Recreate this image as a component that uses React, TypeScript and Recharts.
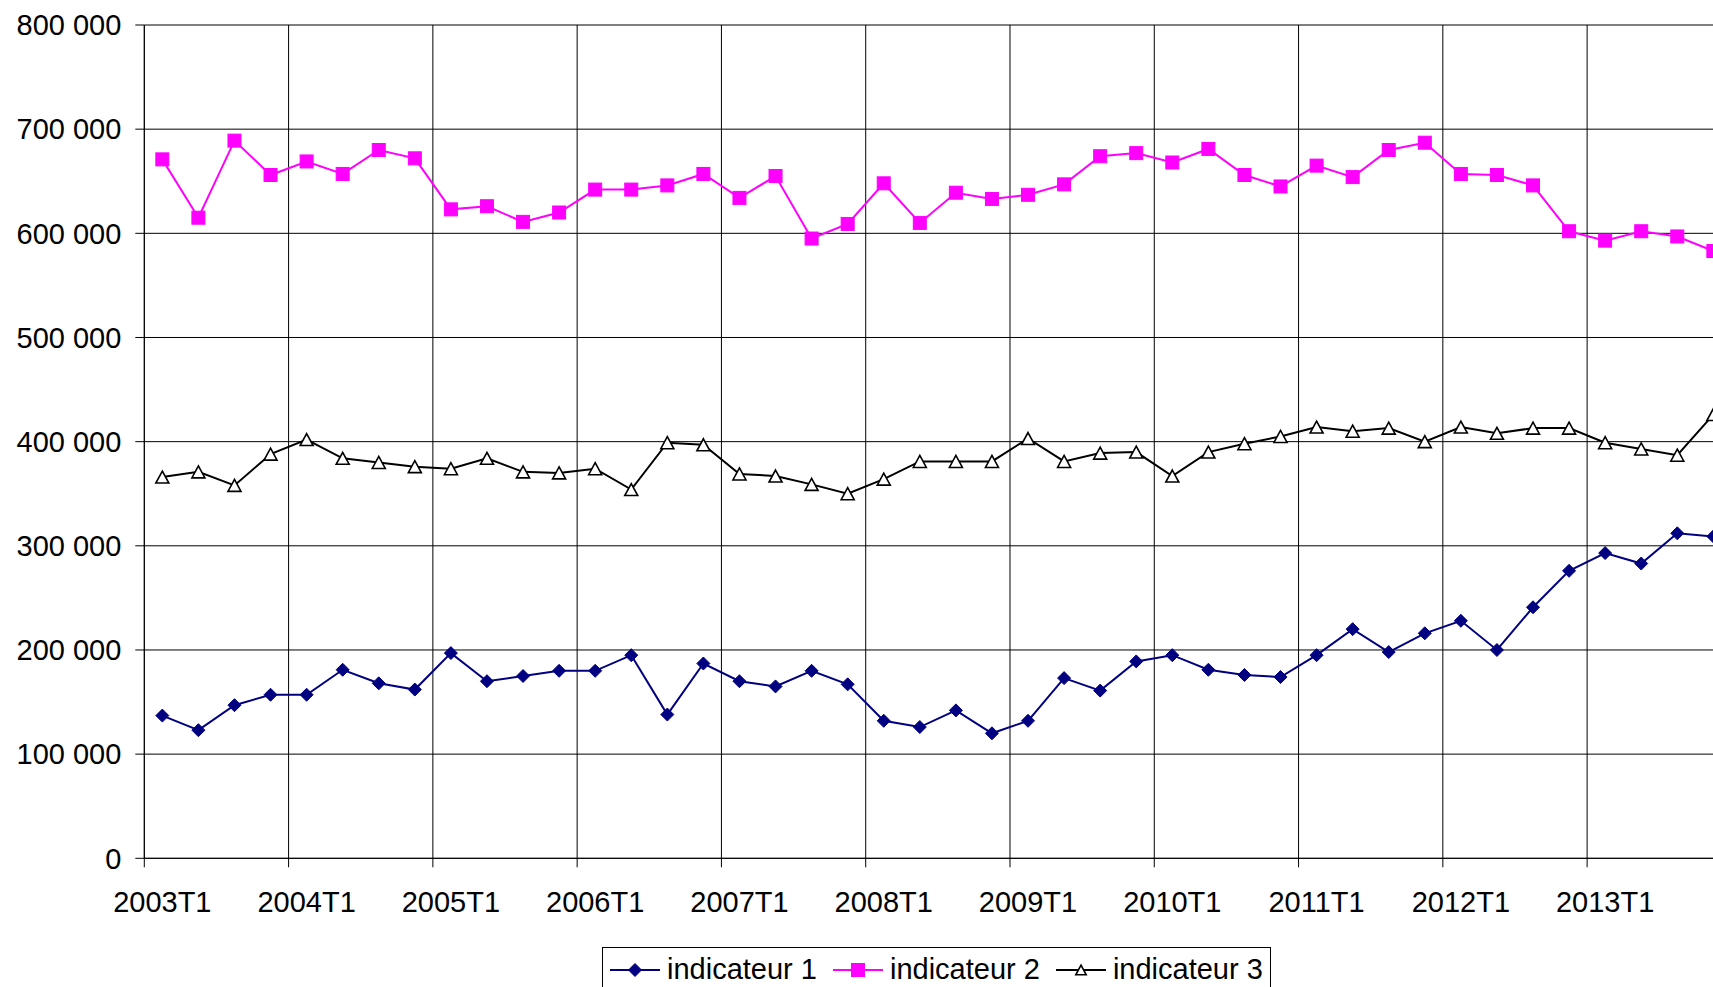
import React from 'react';
import { LineChart, Line, XAxis, YAxis, CartesianGrid, Legend } from 'recharts';

const QUARTERS = [
  '2003T1', '2003T2', '2003T3', '2003T4',
  '2004T1', '2004T2', '2004T3', '2004T4',
  '2005T1', '2005T2', '2005T3', '2005T4',
  '2006T1', '2006T2', '2006T3', '2006T4',
  '2007T1', '2007T2', '2007T3', '2007T4',
  '2008T1', '2008T2', '2008T3', '2008T4',
  '2009T1', '2009T2', '2009T3', '2009T4',
  '2010T1', '2010T2', '2010T3', '2010T4',
  '2011T1', '2011T2', '2011T3', '2011T4',
  '2012T1', '2012T2', '2012T3', '2012T4',
  '2013T1', '2013T2', '2013T3', '2013T4',
];

// valeurs en milliers
const INDICATEUR_1 = [
  137, 123, 147, 157, 157, 181, 168, 162, 197, 170, 175, 180,
  180, 195, 138, 187, 170, 165, 180, 167, 132, 126, 142, 120,
  132, 173, 161, 189, 195, 181, 176, 174, 195, 220, 198, 216,
  228, 200, 241, 276, 293, 283, 312, 309,
];
const INDICATEUR_2 = [
  671, 615, 689, 656, 669, 657, 680, 672, 623, 626, 611, 620,
  642, 642, 646, 657, 634, 655, 595, 609, 648, 610, 639, 633,
  637, 647, 674, 677, 668, 681, 656, 645, 665, 654, 680, 687,
  657, 656, 646, 602, 593, 602, 597, 583,
];
const INDICATEUR_3 = [
  366, 371, 358, 388, 402, 384, 380, 376, 374, 384, 371, 370,
  374, 354, 399, 397, 369, 367, 359, 350, 364, 381, 381, 381,
  403, 381, 389, 390, 367, 390, 398, 405, 414, 410, 413, 400,
  414, 408, 413, 413, 399, 393, 387, 426,
];

const Y_TICKS = [0, 100000, 200000, 300000, 400000, 500000, 600000, 700000, 800000];

const FONT = '"Liberation Sans", Arial, sans-serif';
const FONT_SIZE = 29;
const TICK_SIZE = 9;
const X_TICK_MARGIN = 24;

const data = QUARTERS.map((q, i) => ({
  q,
  ind1: INDICATEUR_1[i] * 1000,
  ind2: INDICATEUR_2[i] * 1000,
  ind3: INDICATEUR_3[i] * 1000,
}));

const SERIES = [
  { key: 'ind1', name: 'indicateur 1', color: '#000080', shape: 'diamond' },
  { key: 'ind2', name: 'indicateur 2', color: '#FF00FF', shape: 'square' },
  { key: 'ind3', name: 'indicateur 3', color: '#000000', shape: 'triangle' },
];

const formatThousands = (v: number) => String(v).replace(/\B(?=(\d{3})+(?!\d))/g, ' ');

function Marker({ shape, cx, cy, color, scale = 1 }: any) {
  if (shape === 'diamond') {
    const r = 6.5 * scale;
    return <polygon points={`${cx},${cy - r} ${cx + r},${cy} ${cx},${cy + r} ${cx - r},${cy}`} fill={color} stroke={color} />;
  }
  if (shape === 'square') {
    const r = 6.5 * scale;
    return <rect x={cx - r} y={cy - r} width={2 * r} height={2 * r} fill={color} stroke={color} />;
  }
  const w = 6.5 * scale;
  const h = 6 * scale;
  return (
    <polygon
      points={`${cx},${cy - h} ${cx + w},${cy + h} ${cx - w},${cy + h}`}
      fill="#fff"
      stroke={color}
      strokeWidth={1.6}
    />
  );
}

const makeDot = (shape: string, color: string) => (p: any) => {
  if (p.cx == null || p.cy == null) return <g key={p.index} />;
  return (
    <g key={p.index}>
      <Marker shape={shape} cx={p.cx} cy={p.cy} color={color} />
    </g>
  );
};

function XTick(props: any) {
  const { x, y, payload } = props;
  const half = payload && payload.offset ? payload.offset : 0;
  const axisY = y - X_TICK_MARGIN - TICK_SIZE;
  return (
    <g>
      <line x1={x - half} x2={x - half} y1={axisY} y2={axisY + TICK_SIZE} stroke="#000" />
      <text x={x} y={y} dy="0.71em" textAnchor="middle" fill="#000" fontSize={FONT_SIZE} fontFamily={FONT}>
        {payload.value}
      </text>
    </g>
  );
}

function LegendBox() {
  return (
    <div
      style={{
        display: 'flex',
        alignItems: 'center',
        border: '1px solid #000',
        background: '#fff',
        padding: '5px 7px 20px 7px',
        fontFamily: FONT,
        fontSize: FONT_SIZE,
        color: '#000',
        whiteSpace: 'nowrap',
      }}
    >
      {SERIES.map((s, i) => (
        <div key={s.key} style={{ display: 'flex', alignItems: 'center', marginLeft: i === 0 ? 0 : 16 }}>
          <svg width={50} height={20} style={{ display: 'block' }}>
            <line x1={0} x2={50} y1={10} y2={10} stroke={s.color} strokeWidth={2} />
            <Marker shape={s.shape} cx={25} cy={10} color={s.color} scale={s.shape === 'triangle' ? 0.8 : 1} />
          </svg>
          <span style={{ marginLeft: 7 }}>{s.name}</span>
        </div>
      ))}
    </div>
  );
}

export default function App() {
  return (
    <div style={{ position: 'fixed', left: 0, top: 0, width: 1713, height: 987, overflow: 'hidden', background: '#fff' }}>
      <LineChart width={1751.4} height={1000} data={data} margin={{ top: 25, right: 20, left: 0, bottom: 0 }}>
        <CartesianGrid
          stroke="#000"
          verticalCoordinatesGenerator={({ offset }: any) => {
            const band = offset.width / QUARTERS.length;
            return QUARTERS.map((_, i) => offset.left + i * band).filter((_, i) => i % 4 === 0);
          }}
        />
        <XAxis
          dataKey="q"
          type="category"
          scale="band"
          interval={3}
          height={141.7}
          tickLine={false}
          tickSize={TICK_SIZE}
          tickMargin={X_TICK_MARGIN}
          axisLine={{ stroke: '#000' }}
          tick={<XTick />}
        />
        <YAxis
          width={144.3}
          domain={[0, 800000]}
          ticks={Y_TICKS}
          interval={0}
          tickFormatter={formatThousands}
          tickSize={TICK_SIZE}
          tickMargin={14}
          axisLine={{ stroke: '#000' }}
          tickLine={{ stroke: '#000' }}
          tick={{ fill: '#000', fontSize: FONT_SIZE, fontFamily: FONT }}
        />
        <Legend
          layout="horizontal"
          verticalAlign="middle"
          align="center"
          wrapperStyle={{ top: 947, left: 602, width: 'auto', height: 'auto' }}
          content={() => <LegendBox />}
        />
        {SERIES.map((s) => (
          <Line
            key={s.key}
            type="linear"
            dataKey={s.key}
            name={s.name}
            stroke={s.color}
            strokeWidth={2}
            dot={makeDot(s.shape, s.color)}
            activeDot={false}
            isAnimationActive={false}
          />
        ))}
      </LineChart>
    </div>
  );
}
